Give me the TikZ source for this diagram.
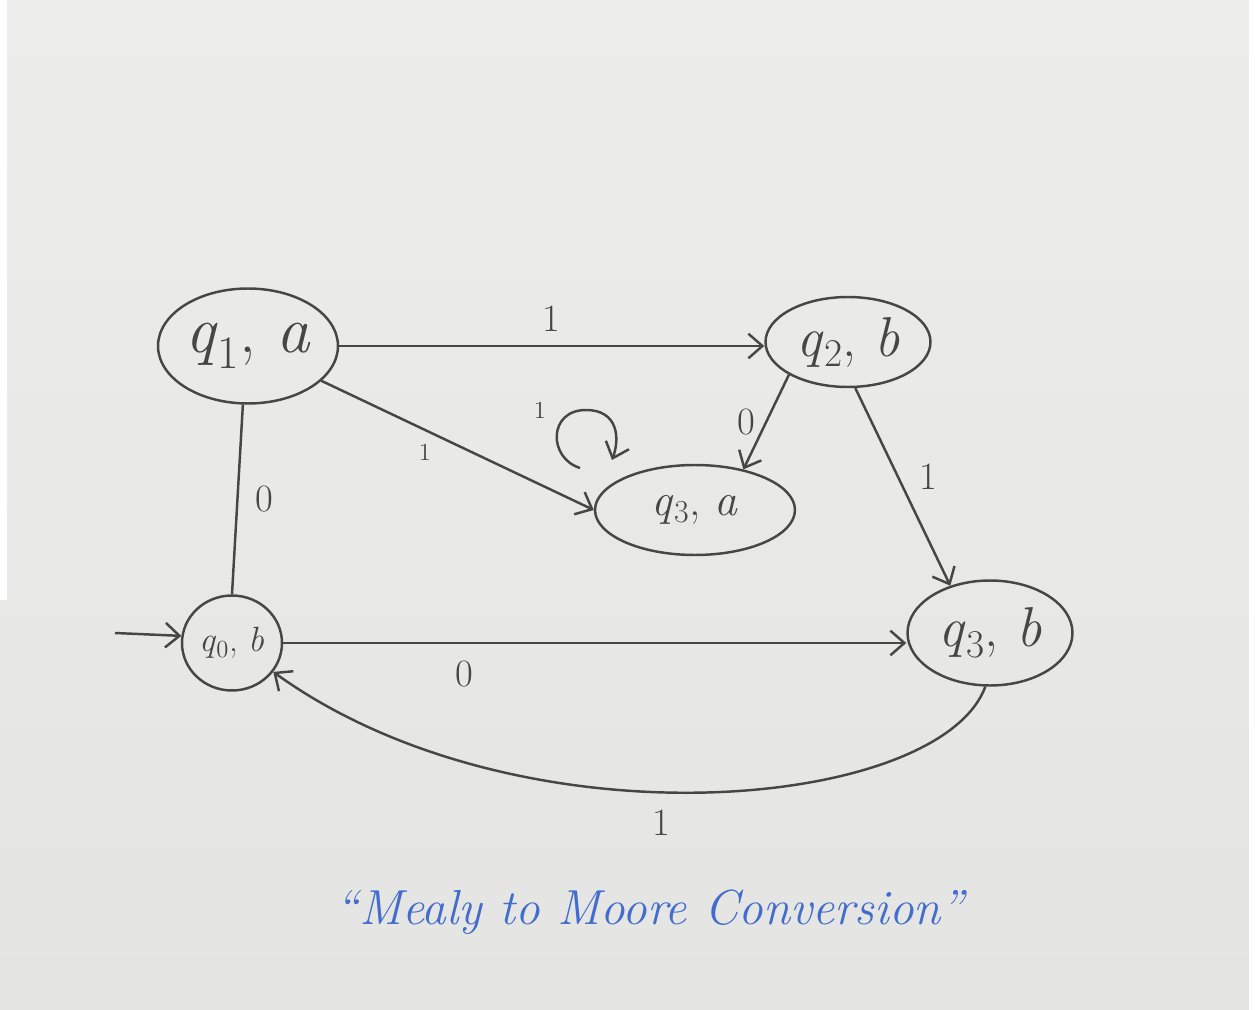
\documentclass[tikz,border=0pt]{standalone}
\usepackage{fontspec}
\usetikzlibrary{shapes.geometric,arrows.meta}
\definecolor{paper}{RGB}{228,228,226}
\definecolor{paperlight}{RGB}{237,237,235}
\definecolor{pencil}{RGB}{70,70,68}
\definecolor{ink}{RGB}{66,108,205}
\newcommand{\stname}[2]{\textit{q}\textsubscript{#1}, \textit{#2}}
\begin{document}
\begin{tikzpicture}[x=0.02cm,y=-0.02cm,
  state/.style={ellipse,draw=pencil,line width=1.4pt,inner sep=0pt,text=pencil},
  tr/.style={draw=pencil,line width=1.4pt,
    -{Straight Barb[length=8pt,width=14pt,line width=1.4pt]}},
  plain/.style={draw=pencil,line width=1.4pt},
  lbl/.style={text=pencil,font=\fontsize{22}{26}\selectfont},
  tick/.style={text=pencil,font=\fontsize{14}{16}\selectfont}]

% paper
\useasboundingbox (0,0) rectangle (1255,1010);
\shade[top color=paperlight,bottom color=paper] (0,0) rectangle (1255,1010);
\fill[white] (0,0) rectangle (7,600);
\fill[white] (1249,0) rectangle (1255,1010);

% states
\node[state,minimum width=3.6cm,minimum height=2.3cm,font=\fontsize{38}{44}\selectfont] (q1a) at (248,346) {\stname{1}{a}};
\node[state,minimum width=3.3cm,minimum height=1.8cm,font=\fontsize{32}{38}\selectfont] (q2b) at (848,342) {\stname{2}{b}};
\node[state,minimum width=4.0cm,minimum height=1.8cm,font=\fontsize{26}{30}\selectfont] (q3a) at (695,510) {\stname{3}{a}};
\node[state,minimum width=2.0cm,minimum height=1.9cm,font=\fontsize{20}{24}\selectfont] (q0b) at (232,643) {\stname{0}{b}};
\node[state,minimum width=3.3cm,minimum height=2.1cm,font=\fontsize{32}{38}\selectfont] (q3b) at (990,633) {\stname{3}{b}};

% start arrow
\coordinate (init) at (115,633);
\draw[tr] (init) -- (q0b.172);

% transitions
\draw[tr] (q1a.east) -- node[lbl,above=4pt] {1} (q1a.east -| q2b.west);
\draw[tr] (q1a) -- node[tick,pos=0.38,below=4pt] {1} (q3a.west);
\draw[plain] (q1a.265) -- node[lbl,right=6pt] {0} (q0b.north);
\draw[tr] (q2b.209) -- node[lbl,left=2pt,pos=0.5] {0} (q3a.40);
\draw[tr] (q2b.279) -- node[lbl,right=8pt,pos=0.45] {1} (q3b.130);
\draw[tr] (q0b.east) -- node[lbl,below=6pt,pos=0.29] {0} (q0b.east -| q3b.west);
\draw[tr] (q3b.265) .. controls (940,810) and (520,850) .. node[lbl,below=6pt,pos=0.55] {1} (q0b.-35);

% self-loop on (q3,a)
\coordinate (loopA) at (580,468);
\coordinate (loopB) at (612,460);
\draw[tr] (loopA) .. controls (548,458) and (548,410) .. (586,410)
  .. controls (618,410) and (620,438) .. (loopB);
\node[tick] (looplbl) at (540,410) {1};

% caption
\node[font=\fontsize{28}{34}\selectfont\itshape,text=ink] (title) at (650,912)
  {“Mealy to Moore Conversion”};
\end{tikzpicture}
\end{document}
